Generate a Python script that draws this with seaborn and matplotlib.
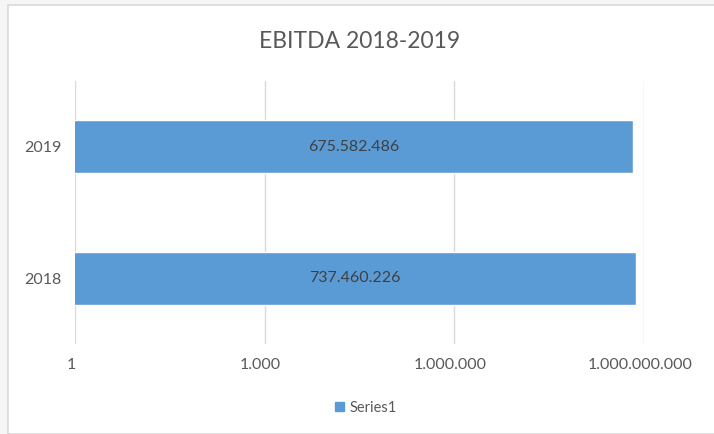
"""
EBITDA 2018-2019 bar chart (log scale)
"""
import matplotlib
matplotlib.use('Agg')
import matplotlib.pyplot as plt
import matplotlib.ticker as ticker
import matplotlib.transforms as mtransforms
from matplotlib.patches import Rectangle, Patch
import seaborn as sns
import pandas as pd

years = ['2019', '2018']
ebitda = [675582486, 737460226]
series_name = 'Series1'
xticks = [1, 1e3, 1e6, 1e9]

df = pd.DataFrame({'year': years, 'ebitda': ebitda})

sns.set_style('white')
plt.rcParams['font.family'] = ['Lato', 'DejaVu Sans']

bar_color = '#5B9BD5'
text_color = '#595959'

fig = plt.figure(figsize=(7.14, 4.34), dpi=100, facecolor='#f6f6f6')
# chart frame
fig.patches.append(Rectangle((8 / 714, 0), 1, 1 - 5 / 434, transform=fig.transFigure,
                             facecolor='white', edgecolor='#d9d9d9', linewidth=1.2, zorder=-5))

ax = fig.add_axes([75 / 714, 1 - 344 / 434, 569 / 714, 263 / 434])
ax.set_facecolor('none')
sns.barplot(data=df, x='ebitda', y='year', order=years, orient='h',
            color=bar_color, saturation=1, width=0.4, ax=ax, zorder=2)
ax.set_xscale('log')
ax.set_xlim(1, 1e9)
ax.set_ylim(1.5, -0.5)

ax.set_xticks(xticks)
ax.xaxis.set_minor_locator(ticker.NullLocator())
ax.xaxis.set_major_formatter(ticker.FuncFormatter(lambda x, pos: f'{int(round(x)):,}'.replace(',', '.')))
ax.grid(axis='x', color='#d9d9d9', linewidth=1)
ax.grid(axis='y', visible=False)
ax.set_axisbelow(True)
for s in ax.spines.values():
    s.set_visible(False)

ax.tick_params(axis='x', length=0, pad=10, labelsize=11.5, labelcolor=text_color)
ax.tick_params(axis='y', length=0, pad=10, labelsize=11.5, labelcolor=text_color)
ax.set_xlabel('')
ax.set_ylabel('')
# Excel draws the axis labels a few pixels left of the gridlines
shift = mtransforms.ScaledTranslation(-4 / 100, 0, fig.dpi_scale_trans)
for lbl in ax.get_xticklabels():
    lbl.set_transform(lbl.get_transform() + shift)

# value labels centred on bars
for i, v in enumerate(ebitda):
    ax.text(v ** 0.5, i, f'{v:,}'.replace(',', '.'), ha='center', va='center',
            fontsize=11.5, color='#404040')

fig.text(360 / 714, 1 - 42 / 434, 'EBITDA 2018-2019', ha='center', va='center',
         fontsize=16.5, color=text_color)

fig.legend(handles=[Patch(color=bar_color, label=series_name)], loc='center',
           bbox_to_anchor=(366 / 714, 1 - 408 / 434), frameon=False, fontsize=10.5,
           handlelength=0.6, handleheight=0.6, handletextpad=0.4, labelcolor=text_color)

fig.savefig('out.png', dpi=100, facecolor=fig.get_facecolor())
